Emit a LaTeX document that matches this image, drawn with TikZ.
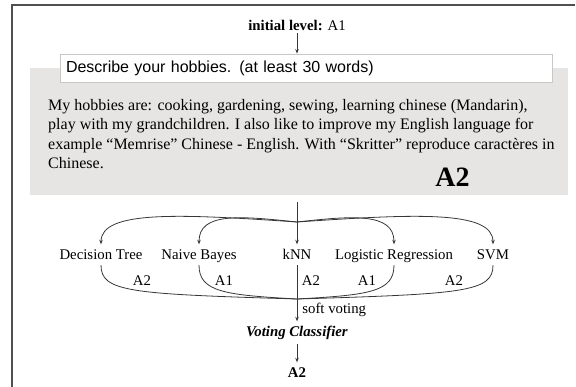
\documentclass[tikz,border=0pt]{standalone}
\usepackage{fontspec}
\setmainfont{Liberation Serif}
\setsansfont{Liberation Sans}
\usetikzlibrary{arrows.meta,positioning,calc}
\definecolor{answergray}{RGB}{230,229,227}
\definecolor{promptgray}{RGB}{200,200,200}
\definecolor{framegray}{RGB}{80,80,80}
\definecolor{wiregray}{RGB}{55,55,55}

\begin{document}
\begin{tikzpicture}[
    x=1pt, y=1pt,
    lbl/.style={font=\fontsize{14.8}{18}\selectfont, inner sep=0pt, text=black},
    clf/.style={lbl, anchor=base, text height=14pt, text depth=3.5pt, inner xsep=0pt, inner ysep=1.5pt},
    wire/.style={wiregray, line width=0.8pt},
    arrow/.style={wire, -{Stealth[length=4.5pt, width=3.5pt]}}
]
\useasboundingbox (0,0) rectangle (576,-387);
\draw[framegray, line width=1.5pt] (12,-387) -- (12,-5) -- (575,-5);

% learner answer
\node[fill=answergray, minimum width=538pt, minimum height=127pt, inner sep=0pt] (answer) at (299,-131.5) {};
\node[draw=promptgray, fill=white, line width=0.8pt, text width=480pt, inner xsep=6pt, minimum height=28pt,
      font=\sffamily\fontsize{16}{18}\selectfont, align=left] (prompt) at (306,-68) {Describe your hobbies. (at least 30 words)};
\node[lbl] (level) at (297,-25) {\textbf{initial level:} A1};
\draw[arrow, shorten <=3pt] (level.south) -- (level.south |- prompt.north);

\node[font=\fontsize{16}{19.5}\selectfont, align=left, anchor=north west, inner sep=0pt] (essay) at (48,-99)
  {My hobbies are: cooking, gardening, sewing, learning chinese (Mandarin),\\
   play with my grandchildren. I also like to improve my English language for\\
   example “Memrise” Chinese - English. With “Skritter” reproduce caractères in\\
   Chinese.};
\node[font=\bfseries\fontsize{28}{28}\selectfont, inner sep=0pt] (grade) at (452.5,-177) {A2};

% classifiers
\node[clf] (dt) at (101,-260) {Decision Tree};
\node[clf] (nb) at (199,-260) {Naive Bayes};
\node[clf] (knn) at (297,-260) {kNN};
\node[clf] (lr) at (394,-260) {Logistic Regression};
\node[clf] (svm) at (493,-260) {SVM};

\coordinate (top) at (297,-202);
\coordinate (split) at (297,-222);
\coordinate (join) at (297,-299);

\draw[arrow] (top) -- (knn);
\draw[arrow] (split) .. controls (180,-214) and (101,-210) .. (dt.north);
\draw[arrow] (split) .. controls (240,-216) and (199,-212) .. (nb.north);
\draw[arrow] (split) .. controls (351,-216) and (394,-212) .. (lr.north);
\draw[arrow] (split) .. controls (414,-214) and (493,-210) .. (svm.north);

\draw[wire] (dt.south) .. controls (101,-292) and (130,-294) .. (join);
\draw[wire] (nb.south) .. controls (199,-292) and (225,-295) .. (join);
\draw[wire] (knn.south) -- (join);
\draw[wire] (lr.south) .. controls (394,-292) and (369,-295) .. (join);
\draw[wire] (svm.south) .. controls (493,-292) and (464,-294) .. (join);

\node[lbl] (dtvote) at (142,-280.5) {A2};
\node[lbl] (nbvote) at (224,-280.5) {A1};
\node[lbl] (knnvote) at (311,-280.5) {A2};
\node[lbl] (lrvote) at (367,-280.5) {A1};
\node[lbl] (svmvote) at (454,-280.5) {A2};

% ensemble
\node[clf] (voting) at (297,-337) {\textbf{\textit{Voting Classifier}}};
\node[clf] (result) at (297,-378) {\textbf{A2}};
\draw[arrow] (join) -- node[lbl, right=5pt] (soft) {soft voting} (voting);
\draw[arrow, shorten <=2pt] (voting) -- (result);
\end{tikzpicture}
\end{document}
